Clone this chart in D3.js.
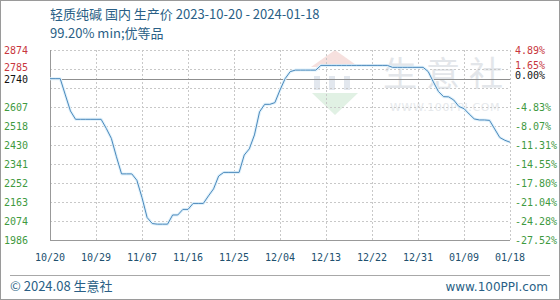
<!DOCTYPE html>
<html>
<head>
<meta charset="utf-8">
<script src="https://cdn.jsdelivr.net/npm/d3@7"></script>
<style>
  html, body { margin: 0; padding: 0; background: #fff; }
  svg { display: block; }
</style>
</head>
<body>
<div id="chart"></div>
<script>
// daily prices, 2023-10-20 .. 2024-01-18
var startDate = '2023-10-20';
var prices = [
  2740, 2740, 2740, 2664, 2589, 2550, 2550, 2550, 2550, 2550,
  2550, 2508, 2461, 2375, 2295, 2295, 2295, 2265, 2184, 2091,
  2063, 2060, 2060, 2060, 2103, 2103, 2129, 2129, 2157, 2157,
  2157, 2192, 2225, 2285, 2302, 2302, 2302, 2302, 2383, 2412,
  2477, 2585, 2620, 2620, 2628, 2687, 2740, 2773, 2780, 2780,
  2780, 2780, 2780, 2802, 2802, 2802, 2802, 2802, 2802, 2802,
  2802, 2802, 2802, 2802, 2802, 2802, 2802, 2793, 2793, 2793,
  2793, 2793, 2793, 2793, 2773, 2725, 2680, 2656, 2655, 2640,
  2610, 2600, 2575, 2552, 2547, 2547, 2545, 2505, 2465, 2452,
  2443
];
var basePrice = 2740;

var xTickLabels = ['10/20', '10/29', '11/07', '11/16', '11/25', '12/04', '12/13', '12/22', '12/31', '01/09', '01/18'];
var xTickYears  = [2023, 2023, 2023, 2023, 2023, 2023, 2023, 2023, 2023, 2024, 2024];

var yMin = 1986, yMax = 2874;
var yTickLabels   = ['2874', '2785', '', '2607', '2518', '2430', '2341', '2252', '2163', '2074', '1986'];
var pctTickLabels = ['4.89%', '1.65%', '', '-4.83%', '-8.07%', '-11.31%', '-14.55%', '-17.80%', '-21.04%', '-24.28%', '-27.52%'];

var titleText = '轻质纯碱 国内 生产价 2023-10-20 - 2024-01-18';
var subTitleText = '99.20% min;优等品';

var W = 560, H = 300;
var plot = { left: 50, right: 510, top: 50, bottom: 240 };
var labelFont = '"DejaVu Sans Mono", monospace';
var cjkFont = '"Noto Sans CJK SC", "Noto Sans", sans-serif';
var upColor = '#c8363d', downColor = '#3f9a3f';

var parse = d3.timeParse('%Y-%m-%d');
var t0 = parse(startDate);
var data = prices.map(function(v, i) { return { date: d3.timeDay.offset(t0, i), value: v }; });

var x = d3.scaleTime()
  .domain([t0, data[data.length - 1].date])
  .range([plot.left, plot.right]);

var y = d3.scaleLinear().domain([yMin, yMax]).range([plot.bottom, plot.top]);
var yTicks = d3.range(yTickLabels.length).map(function(i) {
  return yMax - i * (yMax - yMin) / (yTickLabels.length - 1);
});
var xTicks = xTickLabels.map(function(l, i) {
  return d3.timeParse('%Y/%m/%d')(xTickYears[i] + '/' + l);
});

var svg = d3.select('#chart').append('svg').attr('width', W).attr('height', H);

// outer frame
svg.append('rect')
  .attr('x', 0.5).attr('y', 0.5).attr('width', W - 1).attr('height', H - 1)
  .attr('fill', '#fff').attr('stroke', '#9a9a9a');

// titles
svg.append('text').attr('x', 50).attr('y', 19).text(titleText)
  .attr('font-family', cjkFont).attr('font-size', 13).attr('fill', '#2a5f86');
svg.append('text').attr('x', 50).attr('y', 38).text(subTitleText)
  .attr('font-family', cjkFont).attr('font-size', 13).attr('fill', '#2a5f86');

// watermark
var wm = svg.append('g').attr('pointer-events', 'none');
wm.append('path').attr('d', 'M311,67 L335,50 L359,67 Z').attr('fill', '#f6e0de');
['P', 'P', 'I'].forEach(function(c, i) {
  wm.append('rect').attr('x', 314 + i * 15).attr('y', 76).attr('width', 6).attr('height', 14).attr('fill', '#e2e7ee');
});
wm.append('path').attr('d', 'M312,93 L358,93 L335,115 Z').attr('fill', '#e1f1e4');
wm.append('text').attr('x', 383).attr('y', 86).text('生意社')
  .attr('font-family', cjkFont).attr('font-size', 34).attr('letter-spacing', 9)
  .attr('fill', '#e3e6ea');
wm.append('text').attr('x', 390).attr('y', 111).text('WWW.100PPI.COM')
  .attr('font-family', '"DejaVu Sans", sans-serif').attr('font-size', 11).attr('letter-spacing', 0.6)
  .attr('fill', '#e6e9ec');

// grid
var grid = svg.append('g').attr('stroke', '#c8c8c8').attr('stroke-dasharray', '2,2').attr('shape-rendering', 'crispEdges');
grid.selectAll('line.h').data(yTicks).join('line').attr('class', 'h')
  .attr('x1', plot.left).attr('x2', plot.right)
  .attr('y1', function(d) { return Math.round(y(d)) + 0.5; })
  .attr('y2', function(d) { return Math.round(y(d)) + 0.5; });
grid.selectAll('line.v').data(xTicks).join('line').attr('class', 'v')
  .attr('y1', plot.top).attr('y2', plot.bottom)
  .attr('x1', function(d) { return Math.round(x(d)) + 0.5; })
  .attr('x2', function(d) { return Math.round(x(d)) + 0.5; });

// base line
svg.append('line')
  .attr('x1', plot.left).attr('x2', plot.right)
  .attr('y1', Math.round(y(basePrice)) + 0.5).attr('y2', Math.round(y(basePrice)) + 0.5)
  .attr('stroke', '#8f8f8f').attr('shape-rendering', 'crispEdges');

// left + bottom frame
svg.append('path')
  .attr('d', 'M' + (plot.left + 0.5) + ',' + plot.top + 'V' + (plot.bottom + 0.5) + 'H' + plot.right)
  .attr('fill', 'none').attr('stroke', '#999').attr('shape-rendering', 'crispEdges');

// price line
var line = d3.line().x(function(d) { return x(d.date); }).y(function(d) { return y(d.value); });
svg.append('path').datum(data).attr('d', line)
  .attr('fill', 'none').attr('stroke', '#e0f1fb').attr('stroke-width', 3).attr('stroke-linejoin', 'round');
svg.append('path').datum(data).attr('d', line)
  .attr('fill', 'none').attr('stroke', '#4b89bb').attr('stroke-width', 1).attr('stroke-linejoin', 'round');

// left labels (the one next to the base label is nudged up, like the original)
var yl = svg.append('g').attr('font-family', labelFont).attr('font-size', 10).attr('text-anchor', 'end');
yl.selectAll('text').data(yTicks).join('text')
  .attr('x', 28).attr('y', function(d, i) { return y(d) - (i === 1 ? 2 : 0); }).attr('dy', '0.35em')
  .attr('fill', function(d) { return d > basePrice ? upColor : downColor; })
  .text(function(d, i) { return yTickLabels[i]; });
yl.append('text').attr('x', 28).attr('y', y(basePrice) + 0.5).attr('dy', '0.35em')
  .attr('fill', '#111').text(String(basePrice));

// right labels
var yr = svg.append('g').attr('font-family', labelFont).attr('font-size', 10);
yr.selectAll('text').data(yTicks).join('text')
  .attr('x', 515).attr('y', function(d, i) { return y(d) - (i === 1 ? 4 : 0); }).attr('dy', '0.35em')
  .attr('fill', function(d) { return d > basePrice ? upColor : downColor; })
  .text(function(d, i) { return pctTickLabels[i]; });
yr.append('text').attr('x', 515).attr('y', y(basePrice) - 3.5).attr('dy', '0.35em')
  .attr('fill', '#111').text('0.00%');

// x labels
svg.append('g').attr('font-family', labelFont).attr('font-size', 10).attr('text-anchor', 'middle')
  .selectAll('text').data(xTicks).join('text')
  .attr('x', function(d) { return x(d); }).attr('y', 261)
  .attr('fill', '#20506f')
  .text(function(d, i) { return xTickLabels[i]; });

// footer
svg.append('line').attr('x1', 10).attr('x2', 550).attr('y1', 275.5).attr('y2', 275.5)
  .attr('stroke', '#a8a8a8');
svg.append('text').attr('x', 10).attr('y', 291).text('© 2024.08 生意社')
  .attr('font-family', cjkFont).attr('font-size', 13).attr('fill', '#2a5f86');
svg.append('text').attr('x', 548).attr('y', 291).attr('text-anchor', 'end').text('www.100PPI.com')
  .attr('font-family', '"DejaVu Sans", sans-serif').attr('font-size', 12).attr('fill', '#2a5f86');
</script>
</body>
</html>
